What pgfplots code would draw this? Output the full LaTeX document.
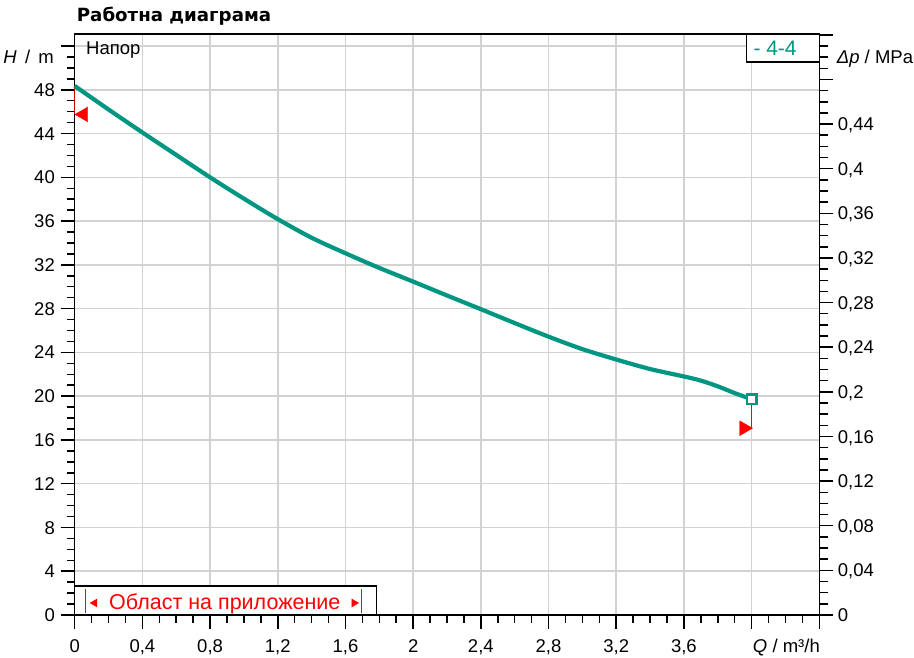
\documentclass[border=0pt]{standalone}
\usepackage{pgfplots}
\pgfplotsset{compat=1.18}
\usepackage{fontspec}
\setmainfont{Liberation Sans}
\newfontfamily\titlefont{DejaVu Sans}
\definecolor{wteal}{RGB}{0,150,130}
\definecolor{gridgray}{RGB}{210,210,210}
\newcommand{\lbl}{\fontsize{18.5}{20}\selectfont}
\begin{document}
\begin{tikzpicture}
\path[use as bounding box] (-74.7pt,-43pt) rectangle (839.3pt,615pt);
\begin{axis}[
  at={(0pt,0pt)}, anchor=south west, scale only axis,
  width=744.6pt, height=581pt,
  xmin=0, xmax=4.4, ymin=0, ymax=53.1,
  axis line style={line width=1.5pt},
  xtick={0,0.4,0.8,1.2,1.6,2.0,2.4,2.8,3.2,3.6,4.0,4.4},
  xticklabels={0,{0,4},{0,8},{1,2},{1,6},2,{2,4},{2,8},{3,2},{3,6},{},{}},
  ytick={0,4,8,12,16,20,24,28,32,36,40,44,48,52},
  yticklabels={0,4,8,12,16,20,24,28,32,36,40,44,48,{}},
  minor x tick num=3, minor y tick num=3,
  tick pos=left,
  tick align=outside,
  major tick length=14pt, minor tick length=8pt,
  every tick/.style={black, line width=1.5pt},
  xmajorgrids, ymajorgrids,
  major grid style={gridgray, line width=1.5pt},
  xticklabel style={anchor=base, inner sep=0pt, font=\lbl},
  yticklabel style={anchor=base east, inner sep=0pt, font=\lbl, yshift=-6.6pt},
  xticklabel shift=23.3pt,
  yticklabel shift=5.7pt,
  clip=false,
]
% application range box
\draw[line width=1.2pt, fill=white] (axis cs:0,0) rectangle (axis cs:1.784,2.65);
\addplot[red, line width=1.5pt] coordinates {(0.065,0.18) (0.065,2.38)};
\addplot[red, line width=1.5pt] coordinates {(1.696,0.18) (1.696,2.38)};
\addplot[only marks, red, mark=triangle*, mark size=4.5pt, mark options={rotate=90}] coordinates {(0.118,1.10)};
\addplot[only marks, red, mark=triangle*, mark size=4.5pt, mark options={rotate=-90}] coordinates {(1.651,1.10)};
% red markers
\addplot[red!80!black, line width=1.5pt] coordinates {(0,45.75) (0,48.35)};
\addplot[only marks, red, mark=triangle*, mark size=8.5pt, mark options={rotate=90}] coordinates {(0.052,45.75)};
\addplot[red, line width=1.2pt] coordinates {(4.0,19.72) (4.0,17.07)};
\addplot[only marks, red, mark=triangle*, mark size=8.5pt, mark options={rotate=-90}] coordinates {(3.955,17.07)};
% pump curve
\addplot[wteal, line width=4.2pt, smooth, tension=0.5] coordinates {
(0,48.35) (0.2,46.2) (0.4,44.1) (0.6,42.05) (0.8,40.0) (1.0,38.05) (1.2,36.18)
(1.4,34.48) (1.6,33.06) (1.8,31.72) (2.0,30.47) (2.2,29.2) (2.4,27.95) (2.6,26.68)
(2.8,25.44) (3.0,24.3) (3.2,23.35) (3.4,22.48) (3.6,21.8) (3.7,21.42) (3.8,20.9) (3.9,20.28) (4.0,19.72)};
\addplot[only marks, mark=square*, mark size=4.7pt, mark options={draw=wteal, fill=white, line width=2.6pt}] coordinates {(4.0,19.72)};
\end{axis}
\begin{axis}[
  at={(0pt,0pt)}, anchor=south west, scale only axis,
  width=744.6pt, height=581pt,
  xmin=0, xmax=4.4, ymin=0, ymax=0.52074,
  axis x line=none, axis y line*=right,
  axis line style={line width=1.5pt},
  ytick={0,0.04,0.08,0.12,0.16,0.2,0.24,0.28,0.32,0.36,0.4,0.44,0.48,0.52},
  yticklabels={0,{0,04},{0,08},{0,12},{0,16},{0,2},{0,24},{0,28},{0,32},{0,36},{0,4},{0,44},{},{}},
  minor y tick num=3,
  tick align=outside, major tick length=14pt, minor tick length=9pt,
  every tick/.style={black, line width=1.5pt},
  yticklabel style={anchor=base west, inner sep=0pt, font=\lbl, yshift=-6.6pt},
  yticklabel shift=4.4pt,
]
\addplot[draw=none] coordinates {(0,0)};
\end{axis}
% texts
\node[anchor=base west, inner sep=0pt, font={\titlefont\bfseries\fontsize{18.2}{20}\selectfont}] at (2pt,593.3pt) {Работна диаграма};
\node[anchor=base east, inner sep=0pt, font=\lbl] at (-20.7pt,551.7pt) {\textit{H} \,/\, m};
\node[anchor=base west, inner sep=0pt, font=\lbl] at (762pt,551.7pt) {\textit{Δp} / MPa};
\node[anchor=base east, inner sep=0pt, font=\lbl] at (745.3pt,-37.3pt) {\textit{Q} / m³/h};
\node[anchor=base west, inner sep=0pt, font=\lbl] at (11.3pt,560.7pt) {Напор};
\draw[line width=1.2pt, fill=white] (672pt,553pt) rectangle (744.6pt,581pt);
\node[anchor=base west, inner sep=0pt, text=wteal, font={\fontsize{21}{24}\selectfont}] at (678.6pt,559pt) {- 4-4};
\node[anchor=base west, inner sep=0pt, text=red, font={\fontsize{21.5}{24}\selectfont}] at (34.3pt,5pt) {Област на приложение};
\end{tikzpicture}
\end{document}
